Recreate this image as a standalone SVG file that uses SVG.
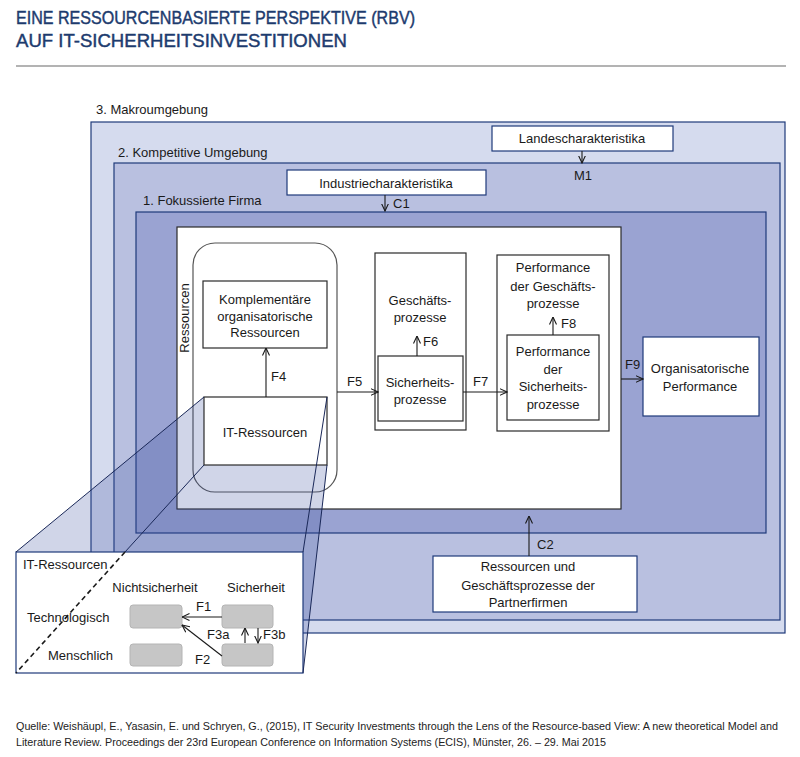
<svg xmlns="http://www.w3.org/2000/svg" width="800" height="757" viewBox="0 0 800 757">
<defs>
<style>
text{font-family:"Liberation Sans",Arial,sans-serif;font-size:13px;fill:#1a1a1a}
.c{text-anchor:middle}
.title{font-size:19px;fill:#1d3b6e;stroke:#1d3b6e;stroke-width:0.45}
.src{font-size:10.5px;fill:#222}
.env{stroke:#1f3a7a;stroke-width:1.2}
.nb{fill:#fff;stroke:#1f3a7a;stroke-width:1.2}
.ib{fill:#fff;stroke:#2a2a2a;stroke-width:1.2}
.gr{fill:#c6c6c6;stroke:#b4b4b4;stroke-width:1}
.pl{stroke:#1a2858;stroke-width:1;fill:none}
.ar{stroke:#1a1a1a;stroke-width:1.1;fill:none;marker-end:url(#ah)}
</style>
<marker id="ah" viewBox="0 0 8 8" refX="7.5" refY="4" markerWidth="8" markerHeight="8" markerUnits="userSpaceOnUse" orient="auto">
<path d="M0,0.5 L7.5,4 L0,7.5" fill="none" stroke="#1a1a1a" stroke-width="1.1"/>
</marker>
</defs>

<g id="header">
<text class="title" x="16" y="24" textLength="399" lengthAdjust="spacingAndGlyphs">EINE RESSOURCENBASIERTE PERSPEKTIVE (RBV)</text>
<text class="title" x="16" y="47" textLength="331" lengthAdjust="spacingAndGlyphs">AUF IT-SICHERHEITSINVESTITIONEN</text>
<line x1="16" y1="66" x2="786" y2="66" stroke="#9a9a9a" stroke-width="1.6"/>
</g>

<g id="makroumgebung">
<rect class="env" x="91" y="122" width="694" height="511" fill="#d5dbee"/>
<text x="96" y="114">3. Makroumgebung</text>
</g>
<g id="kompetitive-umgebung">
<rect class="env" x="114" y="163" width="666" height="457" fill="#b9c0e0"/>
<text x="118" y="157">2. Kompetitive Umgebung</text>
</g>
<g id="fokussierte-firma">
<rect class="env" x="136" y="212" width="630" height="321" fill="#9aa3d2"/>
<text x="143" y="205">1. Fokussierte Firma</text>
</g>
<g id="firma-innen">
<rect x="177" y="227" width="444" height="282" fill="#fff" stroke="#2a2a2a" stroke-width="1.2"/>
</g>

<g id="landescharakteristika">
<rect class="nb" x="492" y="126" width="181" height="25"/>
<text class="c" x="582" y="143">Landescharakteristika</text>
</g>
<g id="industriecharakteristika">
<rect class="nb" x="287" y="170" width="199" height="25"/>
<text class="c" x="386" y="188">Industriecharakteristika</text>
</g>
<g id="partnerfirmen">
<rect class="nb" x="433" y="556" width="204" height="56"/>
<text class="c" x="528" y="571">Ressourcen und</text>
<text class="c" x="528" y="590">Geschäftsprozesse der</text>
<text class="c" x="528" y="607">Partnerfirmen</text>
</g>
<g id="organisatorische-performance">
<rect class="nb" x="643" y="337" width="116" height="79"/>
<text class="c" x="700" y="373">Organisatorische</text>
<text class="c" x="700" y="391">Performance</text>
</g>

<g id="ressourcen">
<rect x="193" y="243" width="144" height="249" rx="22" fill="none" stroke="#555" stroke-width="1.2"/>
<text class="c" transform="translate(189,318) rotate(-90)">Ressourcen</text>
</g>
<g id="komplementaere-ressourcen">
<rect class="ib" x="203" y="281" width="124" height="67"/>
<text class="c" x="265" y="304">Komplementäre</text>
<text class="c" x="265" y="321">organisatorische</text>
<text class="c" x="265" y="337">Ressourcen</text>
</g>
<g id="geschaeftsprozesse">
<rect class="ib" x="375" y="253" width="91" height="177"/>
<text class="c" x="420" y="305">Geschäfts-</text>
<text class="c" x="420" y="322">prozesse</text>
</g>
<g id="sicherheitsprozesse">
<rect class="ib" x="378" y="356" width="85" height="65"/>
<text class="c" x="420" y="387">Sicherheits-</text>
<text class="c" x="420" y="404">prozesse</text>
</g>
<g id="performance-geschaeftsprozesse">
<rect class="ib" x="497" y="255" width="112" height="176"/>
<text class="c" x="553" y="272">Performance</text>
<text class="c" x="553" y="291">der Geschäfts-</text>
<text class="c" x="553" y="308">prozesse</text>
</g>
<g id="performance-sicherheitsprozesse">
<rect class="ib" x="507" y="335" width="92" height="85"/>
<text class="c" x="553" y="356">Performance</text>
<text class="c" x="553" y="374">der</text>
<text class="c" x="553" y="391">Sicherheits-</text>
<text class="c" x="553" y="409">prozesse</text>
</g>

<g id="projektion">
<polygon points="204,397 327,397 327,465 303,673 16,673 16,552" fill="#3c4fa0" fill-opacity="0.24"/>
</g>
<g id="it-ressourcen">
<rect x="204" y="397" width="123" height="68" fill="#fff" stroke="#2a2a2a" stroke-width="1.2"/>
<text class="c" x="265" y="437">IT-Ressourcen</text>
</g>

<g id="it-ressourcen-detail">
<rect x="16" y="552" width="287" height="121" fill="#fff" stroke="#1f3a7a" stroke-width="1.2"/>
<text x="23" y="569">IT-Ressourcen</text>
<text class="c" x="155" y="592">Nichtsicherheit</text>
<text class="c" x="256" y="592">Sicherheit</text>
<text x="27" y="622">Technologisch</text>
<text x="48" y="660">Menschlich</text>
<rect class="gr" x="130" y="605" width="52" height="23" rx="3"/>
<rect class="gr" x="222" y="605" width="51" height="23" rx="3"/>
<rect class="gr" x="130" y="644" width="52" height="22" rx="3"/>
<rect class="gr" x="222" y="644" width="51" height="22" rx="3"/>
<text x="196" y="611">F1</text>
<text x="195" y="664">F2</text>
<text x="207" y="639">F3a</text>
<text x="263" y="639">F3b</text>
</g>

<g id="projektionslinien">
<line class="pl" x1="204" y1="397" x2="16" y2="552"/>
<line class="pl" x1="204" y1="465" x2="125" y2="552"/>
<line x1="125" y1="552" x2="16" y2="673" stroke="#1a1a1a" stroke-width="1.6" stroke-dasharray="5,3.5"/>
<line class="pl" x1="327" y1="397" x2="303" y2="552"/>
<line class="pl" x1="327" y1="465" x2="303" y2="673"/>
</g>

<g id="connectors">
<line class="ar" x1="582" y1="151" x2="582" y2="163"/>
<text x="574" y="180">M1</text>
<line class="ar" x1="385" y1="195" x2="385" y2="211"/>
<text x="393" y="208">C1</text>
<line class="ar" x1="529" y1="556" x2="529" y2="516"/>
<text x="537" y="549">C2</text>
<line class="ar" x1="266" y1="397" x2="266" y2="348"/>
<text x="271" y="381">F4</text>
<line class="ar" x1="337" y1="392" x2="378" y2="392"/>
<text x="347" y="386">F5</text>
<line class="ar" x1="417" y1="356" x2="417" y2="336"/>
<text x="423" y="346">F6</text>
<line class="ar" x1="463" y1="392" x2="507" y2="392"/>
<text x="473" y="386">F7</text>
<line class="ar" x1="553" y1="335" x2="553" y2="317"/>
<text x="561" y="328">F8</text>
<line class="ar" x1="621" y1="379" x2="643" y2="379"/>
<text x="625" y="369">F9</text>
<line class="ar" x1="222" y1="617" x2="182" y2="617"/>
<line class="ar" x1="222" y1="656" x2="182" y2="625"/>
<line class="ar" x1="245" y1="643" x2="245" y2="628"/>
<line class="ar" x1="258" y1="628" x2="258" y2="643"/>
</g>

<g id="quelle">
<text class="src" x="16" y="730" textLength="762" lengthAdjust="spacingAndGlyphs">Quelle: Weishäupl, E., Yasasin, E. und Schryen, G., (2015), IT Security Investments through the Lens of the Resource-based View: A new theoretical Model and</text>
<text class="src" x="16" y="746" textLength="590" lengthAdjust="spacingAndGlyphs">Literature Review. Proceedings der 23rd European Conference on Information Systems (ECIS), Münster, 26. – 29. Mai 2015</text>
</g>
</svg>
